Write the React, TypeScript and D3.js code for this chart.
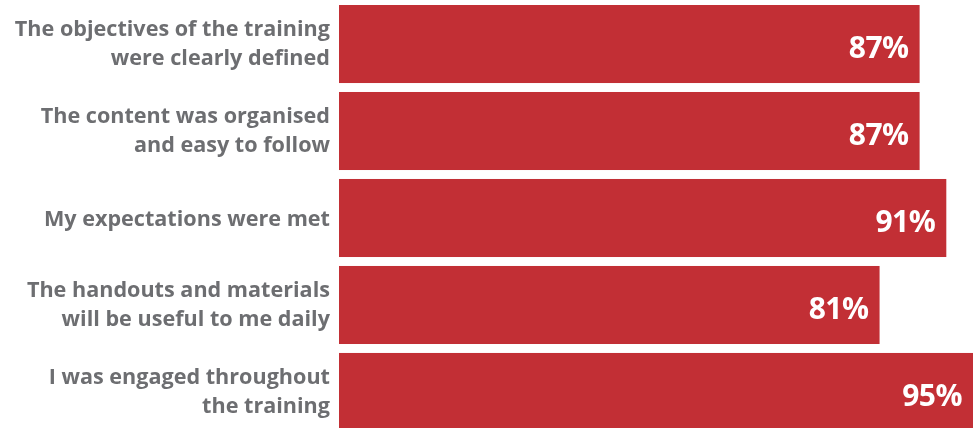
import * as d3 from 'd3';

const categories = [
  'The objectives of the training\nwere clearly defined',
  'The content was organised\nand easy to follow',
  'My expectations were met',
  'The handouts and materials\nwill be useful to me daily',
  'I was engaged throughout\nthe training',
];
const values = [87, 87, 91, 81, 95];

const W = 979;
const H = 428;
const BAR = '#c22f35';
const TEXT = '#6d6e71';
const FONT = "'Open Sans', Lato, sans-serif";

const App = () => {
  const x = d3.scaleLinear().domain([0, 95]).range([339, 973]);
  const y = d3
    .scaleBand<string>()
    .domain(categories)
    .range([5, 431])
    .paddingInner(0.103)
    .paddingOuter(0);

  return (
    <div style={{ position: 'fixed', left: 0, top: 0 }}>
      <svg width={W} height={H} style={{ display: 'block' }}>
        {categories.map((c, i) => {
          const y0 = y(c) || 0;
          const bw = y.bandwidth();
          const lines = c.split('\n');
          const mid = y0 + bw / 2;
          // baselines: single line sits slightly below centre, two lines 29px apart
          const base = lines.length === 1 ? [mid + 8] : [mid - 8, mid + 21];
          return (
            <g key={c}>
              <rect x={x(0)} y={y0} width={x(values[i]) - x(0)} height={bw} fill={BAR} />
              <text textAnchor="end" fontFamily={FONT} fontWeight={700} fontSize={21.6} fill={TEXT}>
                {lines.map((l, j) => (
                  <tspan key={j} x={330} y={base[j]}>
                    {l}
                  </tspan>
                ))}
              </text>
              <text
                x={x(values[i]) - 11}
                y={mid + 14}
                textAnchor="end"
                fontFamily={FONT}
                fontWeight={700}
                fontSize={30}
                letterSpacing={-0.5}
                fill="#fff"
              >
                {values[i]}%
              </text>
            </g>
          );
        })}
      </svg>
    </div>
  );
};

export default App;
